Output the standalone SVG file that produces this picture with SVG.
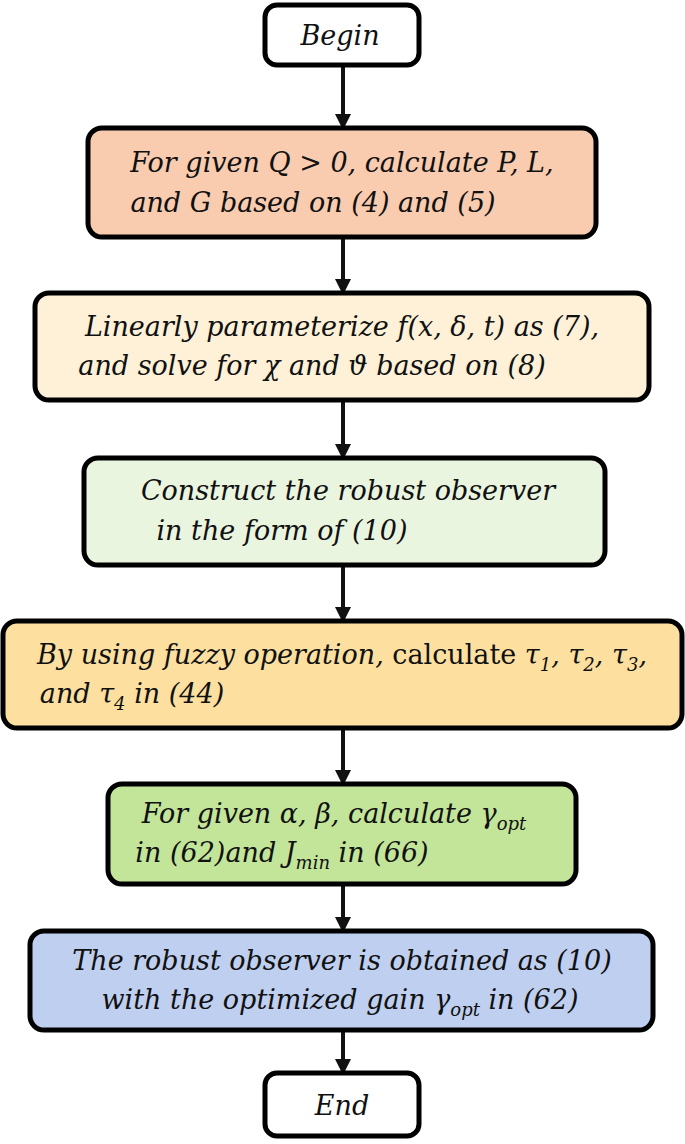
<svg xmlns="http://www.w3.org/2000/svg" width="685" height="1144" viewBox="0 0 685 1144">
<style>
.b{stroke:#000;stroke-width:5}
text{font-family:"DejaVu Serif",serif;font-style:italic;font-size:27px;text-anchor:middle;fill:#111}
.n{font-style:normal}
.c{stroke:#111;stroke-width:4;fill:none;marker-end:url(#a)}
</style>
<defs><marker id="a" markerWidth="4" markerHeight="4" refX="2.5" refY="2" orient="auto"><path d="M0,0L4,2L0,4z" fill="#111"/></marker></defs>
<g id="connectors">
<line class="c" x1="343" y1="66" x2="343" y2="124"/>
<line class="c" x1="343" y1="238" x2="343" y2="289"/>
<line class="c" x1="343" y1="401" x2="343" y2="454"/>
<line class="c" x1="343" y1="566" x2="343" y2="617"/>
<line class="c" x1="343" y1="729" x2="343" y2="780"/>
<line class="c" x1="343" y1="885" x2="343" y2="927"/>
<line class="c" x1="343" y1="1031" x2="343" y2="1069"/>
</g>
<g id="begin"><rect class="b" x="265" y="5" width="154" height="60" rx="12" fill="#fff"/><text x="340" y="45" font-size="31">Begin</text></g>
<g id="n1"><rect class="b" x="88" y="128" width="508" height="109" rx="14" fill="#f9ccb0"/>
<text x="342" y="172">For given Q &gt; 0, calculate P, L,</text><text x="313" y="212">and G based on (4) and (5)</text></g>
<g id="n2"><rect class="b" x="35" y="293" width="614" height="107" rx="14" fill="#fef1d8"/>
<text x="342" y="336">Linearly parameterize f(x, δ, t) as (7),</text><text x="312" y="375">and solve for  χ and ϑ based on (8)</text></g>
<g id="n3"><rect class="b" x="84" y="458" width="521" height="107" rx="14" fill="#eaf5e0"/>
<text x="348" y="500">Construct the robust observer</text><text x="282" y="540">in the form of (10)</text></g>
<g id="n4"><rect class="b" x="3" y="621" width="679" height="107" rx="14" fill="#fde0a0"/>
<text x="342" y="664">By using fuzzy operation, <tspan class="n">calculate</tspan> τ<tspan font-size="18" dy="7">1</tspan><tspan dy="-7">, τ</tspan><tspan font-size="18" dy="7">2</tspan><tspan dy="-7">, τ</tspan><tspan font-size="18" dy="7">3</tspan><tspan dy="-7">,</tspan></text>
<text x="132" y="703">and τ<tspan font-size="18" dy="7">4</tspan><tspan dy="-7"> in (44)</tspan></text></g>
<g id="n5"><rect class="b" x="108" y="784" width="468" height="100" rx="14" fill="#c3e59a"/>
<text x="334" y="823">For given  α, β, calculate γ<tspan font-size="18" dy="7">opt</tspan></text>
<text x="282" y="862">in (62)and J<tspan font-size="18" dy="7">min</tspan><tspan dy="-7"> in (66)</tspan></text></g>
<g id="n6"><rect class="b" x="30" y="931" width="623" height="99" rx="14" fill="#bfcff0"/>
<text x="342" y="970">The robust observer is obtained as (10)</text>
<text x="340" y="1009">with the optimized gain γ<tspan font-size="18" dy="7">opt</tspan><tspan dy="-7"> in (62)</tspan></text></g>
<g id="end"><rect class="b" x="265" y="1073" width="154" height="63" rx="12" fill="#fff"/><text x="342" y="1115" font-size="34">End</text></g>
</svg>
